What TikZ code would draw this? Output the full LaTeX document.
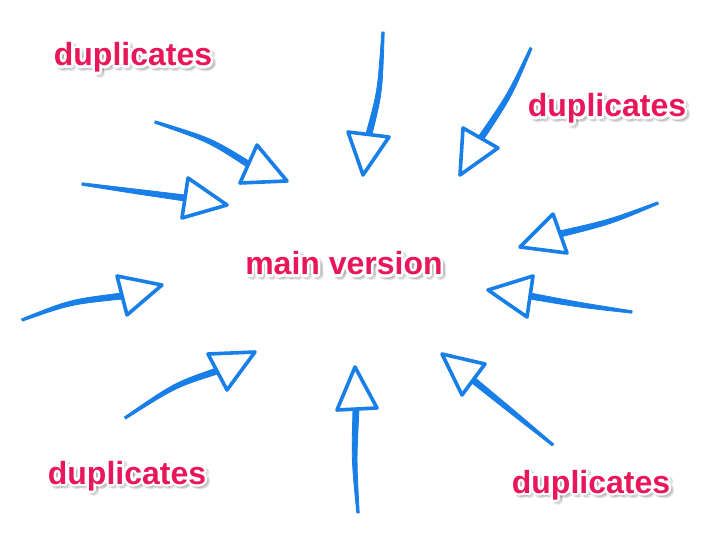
\documentclass[tikz,border=0pt]{standalone}
\usepackage{fontspec}
\setmainfont{Liberation Sans}
\usetikzlibrary{calc}
\definecolor{arrowblue}{RGB}{24,126,232}
\definecolor{pinktext}{RGB}{233,22,90}
\tikzset{
  txt/.style={anchor=base, inner sep=0pt, font=\fontsize{32}{32}\selectfont\bfseries},
  shaftstyle/.style={fill=arrowblue, draw=arrowblue, line width=0.8pt, line join=round},
  headstyle/.style={draw=arrowblue, fill=white, line width=3.6pt, line join=round}
}
% #1 name, #2 start, #3 control, #4 base middle, #5 base vertex, #6 base vertex, #7 tip
\newcommand{\brusharrow}[7]{%
  \coordinate (#1s) at #2; \coordinate (#1c) at #3; \coordinate (#1b) at #4;
  \coordinate (#1v) at #5; \coordinate (#1w) at #6; \coordinate (#1t) at #7;
  \filldraw[shaftstyle] ($(#1s)!1.2pt!90:(#1c)$) .. controls ($(#1c)!2.4pt!90:(#1b)$) .. ($(#1b)!3pt!-90:(#1c)$)
     -- ($(#1b)!3pt!90:(#1c)$) .. controls ($(#1c)!2.4pt!-90:(#1b)$) .. ($(#1s)!1.2pt!-90:(#1c)$) -- cycle;
  \draw[headstyle] (#1v) -- (#1t) -- (#1w) -- cycle;
}
\newcommand{\glowtext}[3]{%
  \foreach \a in {0,45,...,315}{
    \node[txt, text=black, opacity=0.09] (#1sh\a) at ($#2+(\a:3)+(2.5,2.5)$) {#3};
  }
  \foreach \a in {0,30,...,330}{
    \node[txt, text=white] (#1w\a) at ($#2+(\a:2.5)$) {#3};
  }
  \node[txt, text=pinktext] (#1) at #2 {#3};
}
\begin{document}
\begin{tikzpicture}[x=1pt,y=-1pt]
\fill[white] (0,0) rectangle (714,534);
\useasboundingbox (0,0) rectangle (714,534);

\brusharrow{aA}{(155,122)}{(210,140)}{(248,164)}{(257,145)}{(240,183)}{(287,181)}
\brusharrow{aB}{(82,184)}{(140,192)}{(185,198)}{(188,178)}{(182,218)}{(227,205)}
\brusharrow{aC}{(22,320)}{(70,302)}{(122,296)}{(117,276)}{(127,315)}{(162,285)}
\brusharrow{aD}{(125,418)}{(175,385)}{(217,371)}{(208,354)}{(227,390)}{(255,352)}
\brusharrow{aE}{(358,513)}{(354,460)}{(356,409)}{(337,410)}{(377,408)}{(355,367)}
\brusharrow{aF}{(553,445)}{(510,410)}{(473,380)}{(485,364)}{(462,395)}{(442,354)}
\brusharrow{aG}{(632,312)}{(580,305)}{(530,296)}{(533,276)}{(527,317)}{(488,290)}
\brusharrow{aH}{(658,203)}{(610,222)}{(560,234)}{(553,214)}{(567,253)}{(520,247)}
\brusharrow{aI}{(383,32)}{(380,92)}{(369,134)}{(348,132)}{(389,137)}{(363,175)}
\brusharrow{aJ}{(531,48)}{(510,95)}{(481,138)}{(463,128)}{(498,148)}{(460,175)}

\glowtext{tA}{(133,66)}{duplicates}
\glowtext{tB}{(607,117)}{duplicates}
\glowtext{tM}{(344,275)}{main version}
\glowtext{tC}{(127,484)}{duplicates}
\glowtext{tD}{(591,493)}{duplicates}
\end{tikzpicture}
\end{document}
